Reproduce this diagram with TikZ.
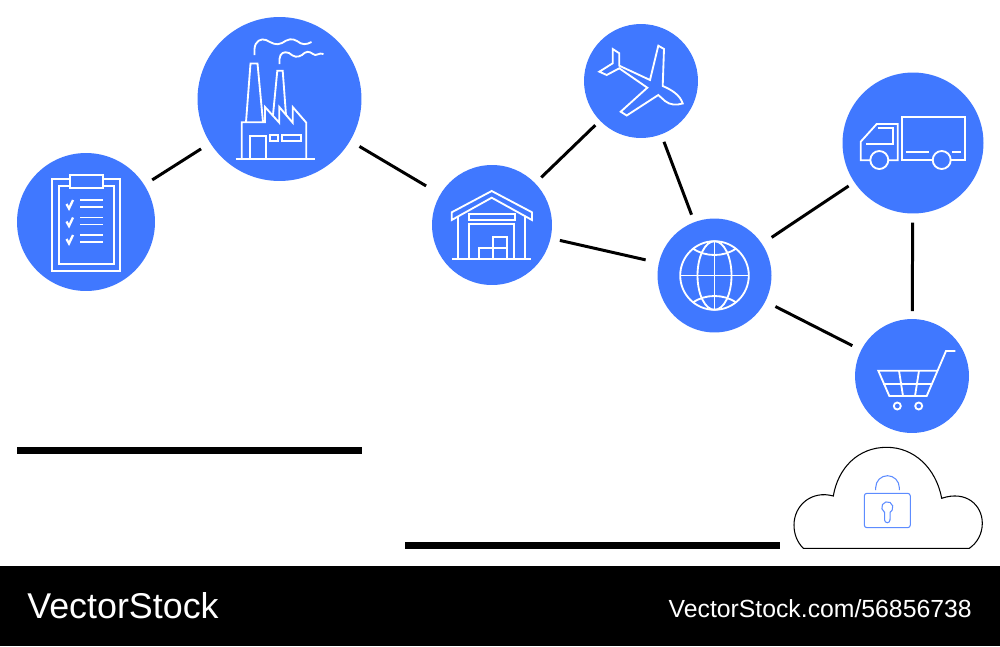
\documentclass[tikz,border=0pt]{standalone}
\usepackage{fontspec}
\setmainfont{Liberation Sans}
\usepackage{tikz}
\definecolor{hubblue}{RGB}{64,120,255}
\usetikzlibrary{calc}
\begin{document}
\begin{tikzpicture}[x=0.02cm,y=-0.02cm,
    hub/.style={circle,fill=hubblue,inner sep=0pt,outer sep=0.16cm},
    link/.style={line width=1.7pt,color=black},
    icon/.style={line width=1.05pt,color=white,line join=miter},
    iconfill/.style={icon,fill=hubblue},
    lockline/.style={line width=0.6pt,color=hubblue!85!white},
    bar/.style={fill=black,draw=none}]
\useasboundingbox (0,0) rectangle (1000,646);
\fill[white] (0,0) rectangle (1000,646);
% circles
\node[hub,minimum size=2.76cm](clipboard)at(86,222){};
\node[hub,minimum size=3.28cm](factory)at(279.5,99){};
\node[hub,minimum size=2.40cm](warehouse)at(492,225){};
\node[hub,minimum size=2.28cm](plane)at(641,81){};
\node[hub,minimum size=2.28cm](globe)at(714.5,275.5){};
\node[hub,minimum size=2.82cm](truck)at(913,143){};
\node[hub,minimum size=2.28cm](cart)at(912,376){};
% links
\draw[link,shorten <=0.85pt,shorten >=1.7pt] (clipboard)--(factory);
\draw[link,shorten <=1.7pt,shorten >=4.9pt] (factory)--(warehouse);
\draw[link,shorten <=0.3pt,shorten >=-0.8pt] (warehouse)--(plane);
\draw[link,shorten <=0.9pt,shorten >=3.2pt] (warehouse)--(globe);
\draw[link] (plane)--(globe);
\draw[link,shorten <=2.1pt,shorten >=-0.6pt] (globe)--(truck);
\draw[link,shorten <=1.9pt,shorten >=1.1pt] (globe)--(cart);
\draw[link,shorten <=0.6pt] (truck)--(cart);
% clipboard icon
\draw[icon] (52,179) rectangle (120,271);
\draw[icon] (59,186) rectangle (114,264);
\draw[iconfill] (70,175) rectangle (103,188);
\foreach \y in {204,221.5,239}{
  \draw[icon,line width=1.3pt] (66.5,\y) -- (69,\y+4.5) -- (73,\y-4);
  \draw[icon] (80,\y-4) -- (103,\y-4);
  \draw[icon] (80,\y+3) -- (103,\y+3);
}
% factory icon
\draw[icon] (254.5,55) -- (254.5,49) .. controls (255,41) and (261,38) .. (266,40) .. controls (272,43) and (276,46) .. (282,43) .. controls (288,39) and (292,38) .. (297,41) .. controls (302,45) and (306,45) .. (311.5,42);
\draw[icon] (279.5,64) -- (279.5,59) .. controls (280,53) and (284,51) .. (289,53) .. controls (294,57) and (297,58) .. (302,55) .. controls (306,51) and (309,51) .. (313,54) .. controls (316,57) and (319,52) .. (323.5,54);
\draw[icon] (246,122) -- (250.5,63.5) -- (257.5,63.5) -- (263,122);
\draw[icon] (273,115) -- (277.3,70.7) -- (282.7,70.7) -- (286,115);
\draw[icon] (241.7,158.7) -- (241.7,122.3) -- (265,122.3) -- (265,107) -- (279.3,122.7) -- (279.3,107) -- (292.7,122.7) -- (292.7,107) -- (306.3,122.7) -- (306.3,158.7);
\draw[icon] (235.7,158.7) -- (315,158.7);
\draw[icon] (250,158.7) -- (250,135.7) -- (265.7,135.7) -- (265.7,158.7);
\draw[icon] (270.3,135) rectangle (278,140.7);
\draw[icon] (282.3,135) rectangle (301,140.7);
% warehouse icon
\draw[icon] (451.7,220) -- (451.7,212.3) -- (491.7,191) -- (532,212.3) -- (532,220) -- (491.7,197.7) -- cycle;
\draw[icon] (458.3,216.7) -- (458.3,259);
\draw[icon] (525.3,216.7) -- (525.3,259);
\draw[icon] (452.3,259) -- (531,259);
\draw[icon] (468.7,214.3) rectangle (515,220);
\draw[icon] (469.3,259) -- (469.3,224) -- (514.3,224) -- (514.3,259);
\draw[icon] (478.7,248) rectangle (492.7,259);
\draw[icon] (492.7,236.7) rectangle (507.3,248);
\draw[icon] (492.7,248) rectangle (507.3,259);
% plane icon
\draw[icon] (612.7,49) -- (619.3,53.3) -- (619.3,65.7) -- (650,80) -- (658.3,45.7) -- (664,49) -- (662.7,86) .. controls (672,90) and (680,95) .. (682.7,103.5) .. controls (676,105.5) and (670,105) .. (665,101) -- (658.3,95) -- (626.7,115.5) -- (620.7,111.7) -- (647.3,87.7) -- (619.3,68.3) -- (606.7,75) -- (599.3,71.7) -- (612.7,63.3) -- cycle;
% globe icon
\draw[icon] (714.5,275.5) circle[radius=34.3];
\draw[icon] (714.5,275.5) ellipse[x radius=17,y radius=34.3];
\draw[icon] (714.5,241.2) -- (714.5,309.8);
\draw[icon] (680.2,275.5) -- (748.8,275.5);
\draw[icon] (692.7,248.3) .. controls (699,253) and (707,255) .. (714.5,255) .. controls (722,255) and (730,253) .. (736.3,248.3);
\draw[icon] (692.7,302.7) .. controls (699,298) and (707,296) .. (714.5,296) .. controls (722,296) and (730,298) .. (736.3,302.7);
% truck icon
\draw[icon] (901.7,117.3) rectangle (964.7,160.3);
\draw[icon] (860.7,160.3) -- (860.7,141.7) -- (876.7,124) -- (897.7,124) -- (897.7,160.3) -- cycle;
\draw[icon] (878.3,128.3) -- (892.7,128.3) -- (892.7,144) -- (866,144);
\draw[icon] (905.7,151.7) -- (929.3,151.7);
\draw[icon] (952,151.7) -- (960.7,151.7);
\draw[iconfill] (879.3,160) circle[radius=9];
\draw[iconfill] (941.7,160) circle[radius=9];
% cart icon
\draw[icon] (955.3,351) -- (946,351) -- (926.7,396) -- (889.3,396) -- (878.3,370.7) -- (936.7,370.7);
\draw[icon] (883.3,384) -- (931.7,384);
\draw[icon] (899,370.7) -- (903,396);
\draw[icon] (919,370.7) -- (915,396);
\draw[icon] (897.3,406) circle[radius=3.5];
\draw[icon] (918.7,406) circle[radius=3.5];
% cloud and lock
\draw[line width=0.6pt] (803.3,548.3) -- (969.3,548.3) .. controls (977,543) and (982.3,534) .. (982.3,523.3) .. controls (982.3,505) and (966,490) .. (941.7,498.3) .. controls (936,468) and (914,447.3) .. (886.7,447.3) .. controls (858,447.3) and (838,468) .. (833.3,496) .. controls (812,490) and (794,505) .. (794,525) .. controls (794,534) and (797,542) .. (803.3,548.3) -- cycle;
\draw[lockline,rounded corners=1.5pt] (864.3,493.3) rectangle (910.3,527.7);
\draw[lockline] (875.7,490) -- (875.7,487.5) arc[start angle=180,end angle=360,radius=11.8] -- (899.3,490);
\draw[lockline] (884.5,512.2) arc[start angle=120,end angle=420,radius=5.6] -- (890,520) arc[start angle=0,end angle=180,radius=2.7] -- cycle;
% bars and footer
\fill[bar] (17,447) rectangle (362,454);
\fill[bar] (405,542) rectangle (780,549);
\fill[black] (0,566) rectangle (1000,646);
\node[anchor=base west,inner sep=0pt,text=white,font=\fontsize{20.4}{24}\selectfont](brand)at(27,618){VectorStock};
\node[anchor=base east,inner sep=0pt,text=white,font=\fontsize{14.1}{17}\selectfont](stockid)at(972,617){VectorStock.com/56856738};
\end{tikzpicture}
\end{document}
